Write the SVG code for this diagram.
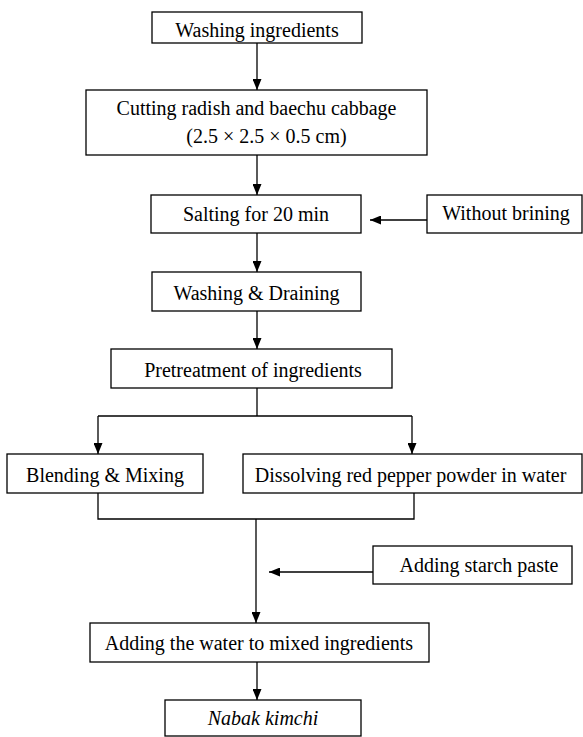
<svg xmlns="http://www.w3.org/2000/svg" width="583" height="737" viewBox="0 0 583 737">
<defs>
<marker id="ah" viewBox="0 0 11 9" markerWidth="11" markerHeight="9" refX="11" refY="4.5" orient="auto" markerUnits="userSpaceOnUse">
<path d="M0,0 L11,4.5 L0,9 z" fill="#000"/>
</marker>
<style>
rect.box{fill:#fff;stroke:#000;stroke-width:1.3}
text{font-family:"Liberation Serif","Times New Roman",serif;font-size:20px;fill:#000;text-anchor:middle}
.c line,.c path{stroke:#000;stroke-width:1.3;fill:none}
.arr{marker-end:url(#ah)}
</style>
</defs>
<rect width="583" height="737" fill="#fff"/>
<g class="c" id="connectors">
<line class="arr" x1="257" y1="43" x2="257" y2="90"/>
<line class="arr" x1="257" y1="155" x2="257" y2="195"/>
<line class="arr" x1="427" y1="220" x2="370" y2="220"/>
<line class="arr" x1="257" y1="233" x2="257" y2="272"/>
<line class="arr" x1="257" y1="311" x2="257" y2="349"/>
<line x1="257" y1="388" x2="257" y2="416"/>
<line x1="98" y1="416" x2="412" y2="416"/>
<line class="arr" x1="98" y1="416" x2="98" y2="454"/>
<line class="arr" x1="412" y1="416" x2="412" y2="454"/>
<path d="M98,493 V519 H414 V493"/>
<line class="arr" x1="256" y1="519" x2="256" y2="623"/>
<line class="arr" x1="373" y1="572" x2="269" y2="572"/>
<line class="arr" x1="257" y1="662" x2="257" y2="700"/>
</g>
<g id="n1"><rect class="box" x="152" y="12" width="210" height="31"/><text x="257" y="37">Washing ingredients</text></g>
<g id="n2"><rect class="box" x="86" y="90" width="341" height="65"/><text x="256.5" y="115">Cutting radish and baechu cabbage</text><text x="266.5" y="143">(2.5 × 2.5 × 0.5 cm)</text></g>
<g id="n3"><rect class="box" x="151" y="195" width="210" height="38"/><text x="256" y="220.5">Salting for 20 min</text></g>
<g id="n4"><rect class="box" x="427" y="195" width="155" height="38"/><text x="506" y="220">Without brining</text></g>
<g id="n5"><rect class="box" x="152" y="272" width="209" height="39"/><text x="256.5" y="299.5">Washing &amp; Draining</text></g>
<g id="n6"><rect class="box" x="111" y="349" width="281" height="39"/><text x="253" y="376.5">Pretreatment of ingredients</text></g>
<g id="n7"><rect class="box" x="7" y="454" width="196" height="39"/><text x="105" y="481.5">Blending &amp; Mixing</text></g>
<g id="n8"><rect class="box" x="243" y="454" width="339" height="39"/><text x="410.5" y="481.5">Dissolving red pepper powder in water</text></g>
<g id="n9"><rect class="box" x="373" y="546" width="199" height="38"/><text x="479" y="572">Adding starch paste</text></g>
<g id="n10"><rect class="box" x="90" y="623" width="339" height="39"/><text x="259" y="650">Adding the water to mixed ingredients</text></g>
<g id="n11"><rect class="box" x="165" y="700" width="196" height="36"/><text x="263" y="725" font-style="italic">Nabak kimchi</text></g>
</svg>
